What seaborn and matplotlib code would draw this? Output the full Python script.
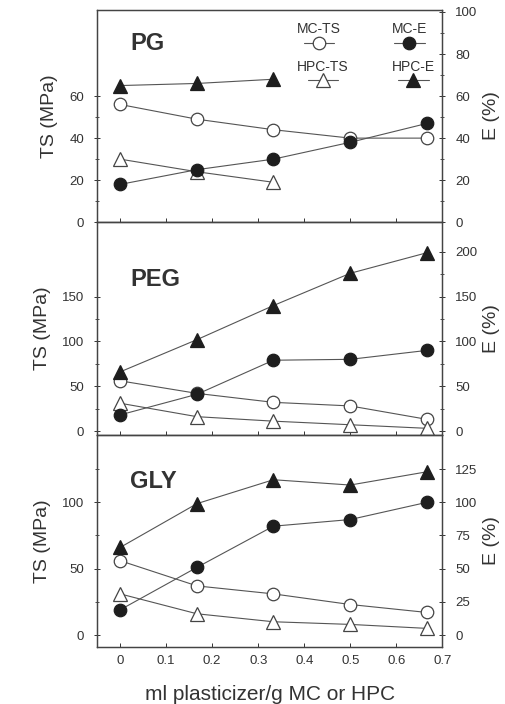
import numpy as np
import matplotlib
matplotlib.use('Agg')
import matplotlib.pyplot as plt
import seaborn as sns
from matplotlib.ticker import FixedLocator
from matplotlib.lines import Line2D
from matplotlib.offsetbox import VPacker

sns.set_style('ticks')
plt.rcParams['font.family'] = ['Liberation Sans', 'DejaVu Sans']

# plasticizer content (ml / g polymer)
x_all = [0, 0.167, 0.333, 0.5, 0.667]
x_pg_hpc = [0, 0.167, 0.333]

# PG
pg_mc_ts = [56, 49, 44, 40, 40]
pg_mc_e = [18, 25, 30, 38, 47]
pg_hpc_ts = [30, 24, 19]
pg_hpc_e = [65, 66, 68]

# PEG
peg_mc_ts = [56, 42, 32, 28, 13]
peg_mc_e = [18, 41, 79, 80, 90]
peg_hpc_ts = [31, 16, 11, 7, 3]
peg_hpc_e = [66, 102, 140, 176, 199]

# GLY
gly_mc_ts = [56, 37, 31, 23, 17]
gly_mc_e = [19, 51, 82, 87, 100]
gly_hpc_ts = [31, 16, 10, 8, 5]
gly_hpc_e = [66, 99, 117, 113, 123]

panels = [
    dict(name='PG', ny=0.84, mc_ts=pg_mc_ts, mc_e=pg_mc_e, hpc_ts=pg_hpc_ts, hpc_e=pg_hpc_e,
         x_hpc=x_pg_hpc, ylim=(0, 101), lticks=[0, 20, 40, 60], lminor=[10, 30, 50],
         rticks=[0, 20, 40, 60, 80, 100], rminor=[10, 30, 50, 70, 90]),
    dict(name='PEG', ny=0.73, mc_ts=peg_mc_ts, mc_e=peg_mc_e, hpc_ts=peg_hpc_ts, hpc_e=peg_hpc_e,
         x_hpc=x_all, ylim=(-4, 233), lticks=[0, 50, 100, 150], lminor=[25, 75, 125],
         rticks=[0, 50, 100, 150, 200], rminor=[25, 75, 125, 175]),
    dict(name='GLY', ny=0.78, mc_ts=gly_mc_ts, mc_e=gly_mc_e, hpc_ts=gly_hpc_ts, hpc_e=gly_hpc_e,
         x_hpc=x_all, ylim=(-9, 151), lticks=[0, 50, 100], lminor=[25, 75, 125],
         rticks=[0, 25, 50, 75, 100, 125], rminor=[]),
]

line_c = '#555555'
mark_c = '#1e1e1e'
txt_c = '#333333'

fig, axes = plt.subplots(3, 1, figsize=(5.06, 7.04), dpi=100, sharex=True)
plt.subplots_adjust(left=0.192, right=0.874, top=0.986, bottom=0.081, hspace=0)

open_kw = dict(markerfacecolor='white', markeredgecolor='#444444', markeredgewidth=0.9)
fill_kw = dict(markerfacecolor=mark_c, markeredgecolor=mark_c, markeredgewidth=0.9)

for ax, p in zip(axes, panels):
    ax2 = ax.twinx()
    sns.lineplot(x=x_all, y=p['mc_ts'], ax=ax, color=line_c, lw=0.8, marker='o',
                 markersize=9, **open_kw)
    sns.lineplot(x=p['x_hpc'], y=p['hpc_ts'], ax=ax, color=line_c, lw=0.8, marker='^',
                 markersize=10, **open_kw)
    sns.lineplot(x=x_all, y=p['mc_e'], ax=ax2, color=line_c, lw=0.8, marker='o',
                 markersize=9, **fill_kw)
    sns.lineplot(x=p['x_hpc'], y=p['hpc_e'], ax=ax2, color=line_c, lw=0.8, marker='^',
                 markersize=10, **fill_kw)

    ax.set_xlim(-0.05, 0.7)
    ax.set_ylim(*p['ylim'])
    ax2.set_ylim(*p['ylim'])
    ax.yaxis.set_major_locator(FixedLocator(p['lticks']))
    ax.yaxis.set_minor_locator(FixedLocator(p['lminor']))
    ax2.yaxis.set_major_locator(FixedLocator(p['rticks']))
    ax2.yaxis.set_minor_locator(FixedLocator(p['rminor']))
    ax.set_ylabel('TS (MPa)', fontsize=14, color=txt_c, labelpad=8)
    ax2.set_ylabel('E (%)', fontsize=14, color=txt_c, labelpad=4)
    ax.text(0.096, p['ny'], p['name'], transform=ax.transAxes, fontsize=17,
            fontweight='bold', color=txt_c, va='center')

    for a in (ax, ax2):
        a.tick_params(axis='y', which='major', direction='inout', length=5, width=0.7,
                      labelsize=9.5, labelcolor=txt_c, color=txt_c, pad=7)
        a.tick_params(axis='y', which='minor', direction='inout', length=3, width=0.6,
                      color=txt_c)
        for s in a.spines.values():
            s.set_color('#444444')
            s.set_linewidth(0.9)
    ax.tick_params(axis='x', direction='in', length=3, width=0.7, labelsize=9.5,
                   labelcolor=txt_c, color=txt_c, pad=6)

axes[-1].set_xticks([0, 0.1, 0.2, 0.3, 0.4, 0.5, 0.6, 0.7])
axes[-1].set_xticklabels(['0', '0.1', '0.2', '0.3', '0.4', '0.5', '0.6', '0.7'])
axes[-1].set_xlabel('ml plasticizer/g MC or HPC', fontsize=15, color=txt_c, labelpad=13)

# legend: label above each marker, 2 x 2 grid
handles = [
    Line2D([], [], color=line_c, lw=0.8, marker='o', markersize=9, **open_kw),
    Line2D([], [], color=line_c, lw=0.8, marker='^', markersize=10, **open_kw),
    Line2D([], [], color=line_c, lw=0.8, marker='o', markersize=9, **fill_kw),
    Line2D([], [], color=line_c, lw=0.8, marker='^', markersize=10, **fill_kw),
]
labels = ['MC-TS', 'HPC-TS', 'MC-E', 'HPC-E']
leg = axes[0].legend(handles, labels, ncol=2, frameon=False, fontsize=10,
                     loc='upper right', bbox_to_anchor=(1.015, 1.0),
                     columnspacing=3.1, labelspacing=0.9, handlelength=2.2)
for t in leg.get_texts():
    t.set_color(txt_c)
for col in leg._legend_handle_box.get_children():
    items = col.get_children()
    for i, item in enumerate(items):
        h, t = item.get_children()
        items[i] = VPacker(children=[t, h], align='center', pad=0, sep=1)

fig.savefig('out.png', dpi=100)
